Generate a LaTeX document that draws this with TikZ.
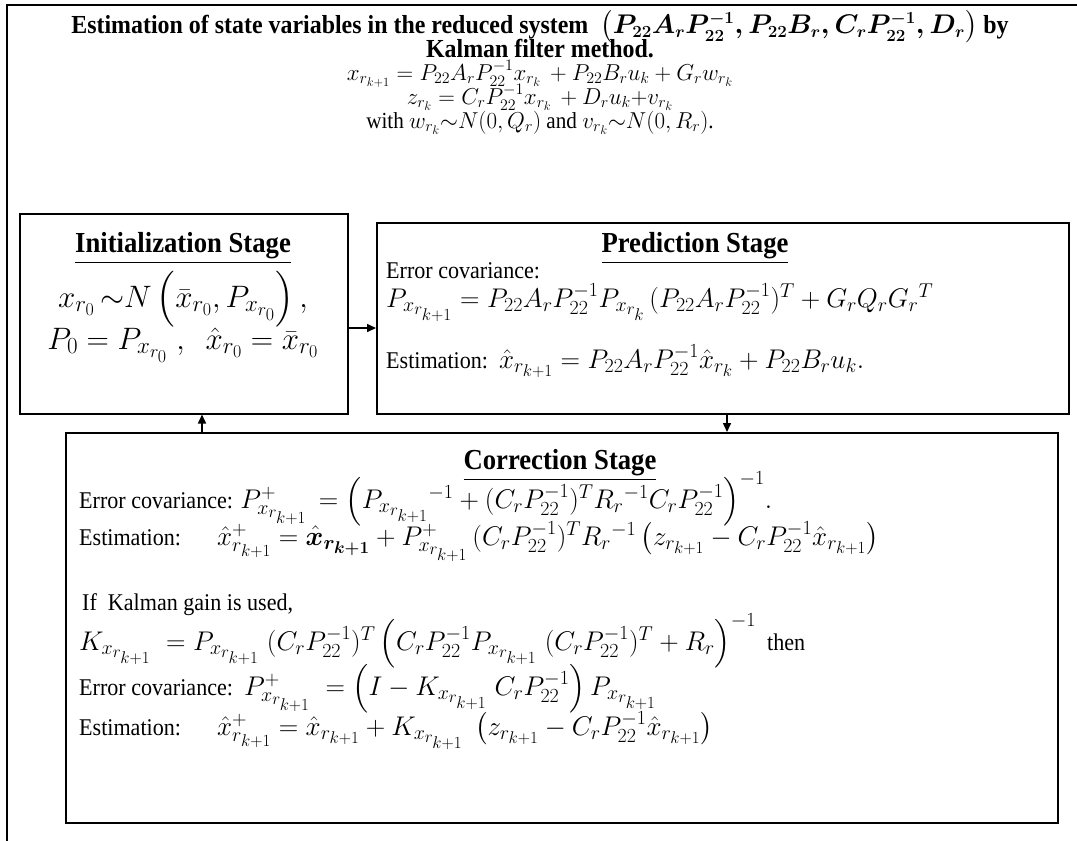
\RequirePackage{fix-cm}
\documentclass[tikz,border=0pt]{standalone}
\usepackage{amsmath,amssymb,bm}
\usepackage{fontspec}
\setmainfont{Liberation Serif}[FakeStretch=0.92]
\usetikzlibrary{arrows.meta}
\DeclareMathSizes{23}{23}{16}{12.5}
\DeclareMathSizes{24}{27}{20}{17}
\DeclareMathSizes{26}{27}{17}{13}
\DeclareMathSizes{31}{31}{23}{18}
\newcommand{\bodyfont}{\fontsize{24}{28}\selectfont}
\newcommand{\Pinv}{P_{22}^{-1}}
\newcommand{\Pk}{P_{x_{r_{k+1}}}}
\newcommand{\Kk}{K_{x_{r_{k+1}}}}
\begin{document}
\begin{tikzpicture}[x=1pt,y=-1pt,
  box/.style={draw, line width=1.5pt, anchor=north west, inner sep=0pt},
  txt/.style={anchor=base west, inner sep=0pt, font=\bodyfont},
  ctxt/.style={anchor=base, inner sep=0pt, font=\fontsize{23}{27}\selectfont},
  ttl/.style={anchor=base, inner sep=0pt, font=\fontsize{29}{33}\selectfont\bfseries},
  arr/.style={line width=1.5pt, -{Triangle[length=9pt,width=8pt]}}]
\useasboundingbox (0,0) rectangle (1077,841);
% outer frame (right and bottom edges lie outside the picture)
\draw[line width=1.8pt] (7,841) -- (7,5) -- (1077,5);
% header
\node[ctxt, font=\fontsize{26}{30}\selectfont\bfseries\boldmath] (t1) at (540,33)
  {Estimation of state variables in the reduced system \ $\bigl(P_{22}A_r\Pinv, P_{22}B_r, C_r\Pinv, D_r\bigr)$\ by};
\node[ctxt, font=\fontsize{26}{30}\selectfont\bfseries] (t2) at (540,57) {Kalman filter method.};
\node[ctxt] (e1) at (540,80) {$x_{r_{k+1}} = P_{22}A_r\Pinv x_{r_k} \,+ P_{22}B_ru_k + G_rw_{r_k}$};
\node[ctxt] (e2) at (540,104) {$z_{r_k} = C_r\Pinv x_{r_k} \,+ D_ru_k{+}v_{r_k}$};
\node[ctxt] (e3) at (540,128) {with $w_{r_k}{\sim}N(0,Q_r)$ and $v_{r_k}{\sim}N(0,R_r)$.};
% boxes
\node[box, minimum width=328pt, minimum height=200pt] (init) at (19,213) {};
\node[box, minimum width=692pt, minimum height=191pt] (pred) at (376,222) {};
\node[box, minimum width=992pt, minimum height=390pt] (corr) at (65,432) {};
% initialization
\node[ttl] (it) at (183,252) {\underline{Initialization Stage}};
\node[ctxt, font=\fontsize{31}{35}\selectfont] (i1) at (183,307)
  {$x_{r_0}\,{\sim}N\left(\bar{x}_{r_0}, P_{x_{r_0}}\right),$};
\node[ctxt, font=\fontsize{31}{35}\selectfont] (i2) at (183,349)
  {$P_0 = P_{x_{r_0}}\;,\;\ \hat{x}_{r_0} = \bar{x}_{r_0}$};
% prediction
\node[ttl] (pt) at (695,252) {\underline{Prediction Stage}};
\node[txt] (p1) at (386,278) {Error covariance:};
\node[txt] (p2) at (386,307) {$P_{x_{r_{k+1}}} = P_{22}A_r\Pinv P_{x_{r_k}}\,(P_{22}A_r\Pinv)^T + G_rQ_rG_r{}^T$};
\node[txt] (p3) at (386,368) {Estimation:\ \ $\hat{x}_{r_{k+1}} = P_{22}A_r\Pinv\hat{x}_{r_k} + P_{22}B_ru_k.$};
% correction
\node[ttl] (ct) at (560,469) {\underline{Correction Stage}};
\node[txt] (c1) at (79,508) {Error covariance: $P^+_{x_{r_{k+1}}}\, = \Bigl(\Pk{}^{-1} + (C_r\Pinv)^TR_r{}^{-1}C_r\Pinv\Bigr)^{-1}.$};
\node[txt] (c2) at (79,545) {Estimation:};
\node[txt] (c2m) at (217,545) {$\hat{x}^+_{r_{k+1}} = \hat{\bm{x}}_{\bm{r_{k+1}}} + P^+_{x_{r_{k+1}}}\,(C_r\Pinv)^TR_r{}^{-1}\left(z_{r_{k+1}} - C_r\Pinv\hat{x}_{r_{k+1}}\right)$};
\node[txt] (c3) at (82,610) {If\ \ Kalman gain is used,};
\node[txt] (c4) at (79,650) {$\Kk\; = \Pk\;(C_r\Pinv)^T\left(C_r\Pinv\Pk\;(C_r\Pinv)^T + R_r\right)^{-1}$\ \ then};
\node[txt] (c5) at (79,695) {Error covariance:\ \ $P^+_{x_{r_{k+1}}}\; = \left(I - \Kk\;C_r\Pinv\right)\Pk$};
\node[txt] (c6) at (79,735) {Estimation:};
\node[txt] (c6m) at (217,735) {$\hat{x}^+_{r_{k+1}} = \hat{x}_{r_{k+1}} + \Kk\;\left(z_{r_{k+1}} - C_r\Pinv\hat{x}_{r_{k+1}}\right)$};
% connectors
\coordinate (ay) at (0,328);
\coordinate (ux) at (202,0);
\coordinate (dx) at (727,0);
\draw[arr] (init.east |- ay) -- (pred.west |- ay);
\draw[arr] (corr.north -| ux) -- (init.south -| ux);
\draw[arr] (pred.south -| dx) -- (corr.north -| dx);
\end{tikzpicture}
\end{document}
